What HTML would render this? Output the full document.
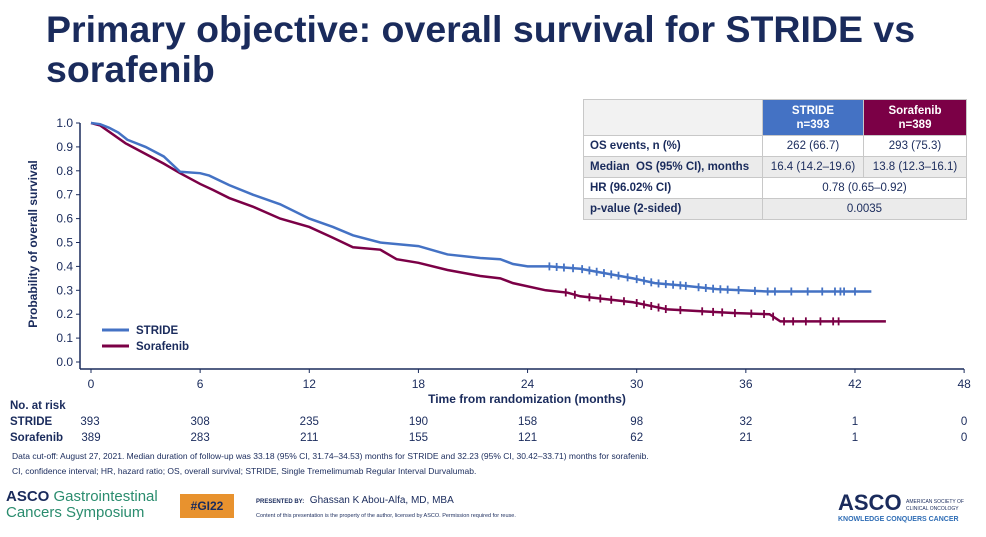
<!DOCTYPE html>
<html><head><meta charset="utf-8">
<style>
body{margin:0;width:986px;height:537px;background:#fff;font-family:"Liberation Sans",Arial,sans-serif;overflow:hidden;position:relative}
.title{position:absolute;left:46px;top:9px;font-size:37.5px;font-weight:bold;color:#1a2b5c;line-height:40px;margin:0}
table{position:absolute;left:583px;top:99px;border-collapse:collapse;font-size:11.5px;color:#1a2b5c}
td{border:1.5px solid #c8c8c8;padding:0 6px;height:20px}
.foot{position:absolute;font-size:8.5px;color:#1a2b5c}
</style></head><body>
<h1 class="title">Primary objective: overall survival for STRIDE vs<br>sorafenib</h1>
<table>
<tr style="height:36px"><td style="width:166px;background:#f2f2f2"></td><td style="width:88px;background:#4472c4;color:#fff;text-align:center;font-weight:bold;line-height:14px">STRIDE<br>n=393</td><td style="width:90px;background:#7b0046;color:#fff;text-align:center;font-weight:bold;line-height:14px">Sorafenib<br>n=389</td></tr>
<tr><td style="font-weight:bold">OS events, n (%)</td><td style="text-align:center">262 (66.7)</td><td style="text-align:center">293 (75.3)</td></tr>
<tr style="background:#ebebeb"><td style="font-weight:bold">Median &nbsp;OS (95% CI), months</td><td style="text-align:center">16.4 (14.2–19.6)</td><td style="text-align:center">13.8 (12.3–16.1)</td></tr>
<tr><td style="font-weight:bold">HR (96.02% CI)</td><td colspan="2" style="text-align:center">0.78 (0.65–0.92)</td></tr>
<tr style="background:#ebebeb"><td style="font-weight:bold">p-value (2-sided)</td><td colspan="2" style="text-align:center">0.0035</td></tr>
</table>
<svg id="chart" width="986" height="537" style="position:absolute;left:0;top:0" font-family="Liberation Sans, Arial, sans-serif"></svg>
<div class="foot" style="left:12px;top:451px">Data cut-off: August 27, 2021. Median duration of follow-up was 33.18 (95% CI, 31.74–34.53) months for STRIDE and 32.23 (95% CI, 30.42–33.71) months for sorafenib.</div>
<div class="foot" style="left:12px;top:466px">CI, confidence interval; HR, hazard ratio; OS, overall survival; STRIDE, Single Tremelimumab Regular Interval Durvalumab.</div>
<div style="position:absolute;left:6px;top:489px;font-size:15px;color:#1a2b5c;line-height:16px"><b>ASCO</b> <span style="color:#2a8c6e">Gastrointestinal<br>Cancers Symposium</span></div>
<div style="position:absolute;left:180px;top:494px;width:54px;height:24px;background:#e8922e;color:#1a2b5c;font-weight:bold;font-size:12px;text-align:center;line-height:24px">#GI22</div>
<div style="position:absolute;left:256px;top:495px;font-size:10px;color:#1a2b5c"><span style="font-size:6px;font-weight:bold">PRESENTED BY:</span>&nbsp; Ghassan K Abou-Alfa, MD, MBA</div>
<div style="position:absolute;left:256px;top:513px;font-size:5.5px;color:#1a2b5c">Content of this presentation is the property of the author, licensed by ASCO. Permission required for reuse.</div>
<div style="position:absolute;left:838px;top:490px;color:#1a2b5c"><span style="font-size:22px;font-weight:bold">ASCO</span> <span style="font-size:5px;display:inline-block;line-height:7px">AMERICAN SOCIETY OF<br>CLINICAL ONCOLOGY</span><div style="font-size:7px;color:#2f6db5;font-weight:bold">KNOWLEDGE CONQUERS CANCER</div></div>
<script>
const strideT=[0,0.5,1,1.5,2,3,4,4.9,6,6.5,7.6,8.9,10.4,12,13.3,14.4,15.9,18,19.6,21.4,22.5,23.2,24,25.2,26.9,29.8,31,32.5,34.4,37.2,42.9];
const strideS=[1,0.995,0.98,0.96,0.93,0.9,0.86,0.796,0.79,0.78,0.74,0.70,0.66,0.60,0.565,0.53,0.50,0.485,0.45,0.435,0.43,0.41,0.40,0.40,0.39,0.35,0.33,0.32,0.305,0.295,0.295];
const soraT=[0,0.5,1.9,4,4.9,6,6.7,7.6,8.9,10.4,12,13.3,14.4,15.9,16.8,18,19.6,21.4,22.5,23.2,25,26.2,26.9,29.8,31.7,35.3,37.3,37.9,43.7];
const soraS=[1,0.99,0.915,0.83,0.79,0.745,0.72,0.686,0.65,0.60,0.565,0.52,0.48,0.47,0.43,0.415,0.385,0.36,0.35,0.33,0.30,0.29,0.275,0.25,0.22,0.205,0.20,0.17,0.17];
const strideCens=[25.2,25.6,26,26.5,27,27.4,27.8,28.2,28.6,29,29.5,30,30.4,30.8,31.2,31.6,32,32.4,32.7,33.4,33.8,34.2,34.6,35,35.6,36.5,37.2,37.6,38.5,39.4,40.2,40.9,41.2,41.4,42];
const soraCens=[26.1,26.6,27.4,28,28.6,29.3,30,30.4,30.8,31.2,31.6,32.4,33.6,34.2,34.7,35.4,36.3,37,37.5,38.1,38.6,39.3,40.1,40.8,41.1];
const xTicks=[0,6,12,18,24,30,36,42,48];
const yTicks=[0,0.1,0.2,0.3,0.4,0.5,0.6,0.7,0.8,0.9,1.0];
const riskStride=[393,308,235,190,158,98,32,1,0];
const riskSora=[389,283,211,155,121,62,21,1,0];
const X=m=>91+m*18.19, Y=s=>362-s*239;
const svg=document.getElementById('chart'),NS='http://www.w3.org/2000/svg';
function mk(t,a,txt){const e=document.createElementNS(NS,t);for(const k in a)e.setAttribute(k,a[k]);if(txt!==undefined)e.textContent=txt;svg.appendChild(e);return e;}
const navy='#1a2b5c';
let e=mk('line',{x1:80,y1:123,x2:80,y2:369,stroke:navy,'stroke-width':1.5});

e=mk('line',{x1:80,y1:369,x2:964,y2:369,stroke:navy,'stroke-width':1.5});

yTicks.forEach(v=>{mk('line',{x1:76,x2:80,y1:Y(v),y2:Y(v),stroke:navy});
 e=mk('text',{x:73,y:Y(v)+4,'text-anchor':'end','font-size':12,fill:navy},v.toFixed(1));
 });
xTicks.forEach((v,i)=>{mk('line',{x1:X(v),x2:X(v),y1:369,y2:373,stroke:navy});
 e=mk('text',{x:X(v),y:388,'text-anchor':'middle','font-size':12,fill:navy},v);
 
 e=mk('text',{x:X(v)+(i==0?-1:0),y:425,'text-anchor':'middle','font-size':11.5,fill:navy},riskStride[i]);
 
 e=mk('text',{x:X(v),y:441,'text-anchor':'middle','font-size':11.5,fill:navy},riskSora[i]);
 });
e=mk('text',{x:527,y:403,'text-anchor':'middle','font-size':12,'font-weight':'bold',fill:navy},'Time from randomization (months)');

e=mk('text',{x:0,y:0,transform:'translate(37,244) rotate(-90)','text-anchor':'middle','font-size':12,'font-weight':'bold',fill:navy},'Probability  of overall  survival');

[['No. at risk',409],['STRIDE',425],['Sorafenib',441]].forEach(([t,y])=>{e=mk('text',{x:10,y:y,'font-size':11.5,'font-weight':'bold',fill:navy},t);
 });
function interp(T,S,c){for(let i=1;i<T.length;i++){if(c<=T[i]){const f=(c-T[i-1])/(T[i]-T[i-1]);return S[i-1]+f*(S[i]-S[i-1]);}}return S[S.length-1];}
function curve(T,S,col,cens,name){let d='M'+X(T[0])+','+Y(S[0]);
 for(let i=1;i<T.length;i++){d+='L'+X(T[i])+','+Y(S[i]);}
 e=mk('path',{d:d,fill:'none',stroke:col,'stroke-width':2.5});
 
 cens.forEach(c=>{const s=interp(T,S,c);
  e=mk('line',{x1:X(c),x2:X(c),y1:Y(s)-4,y2:Y(s)+4,stroke:col,'stroke-width':1.8});
  });}
curve(soraT,soraS,'#7b0046',soraCens,'sorafenib');
curve(strideT,strideS,'#4472c4',strideCens,'stride');
[['STRIDE','#4472c4',331],['Sorafenib','#7b0046',347]].forEach(([t,c,y])=>{
 e=mk('line',{x1:102,x2:129,y1:y-1,y2:y-1,stroke:c,'stroke-width':3});
 
 e=mk('text',{x:136,y:y+3,'font-size':11.5,'font-weight':'bold',fill:navy},t);
 });
</script>
</body></html>
